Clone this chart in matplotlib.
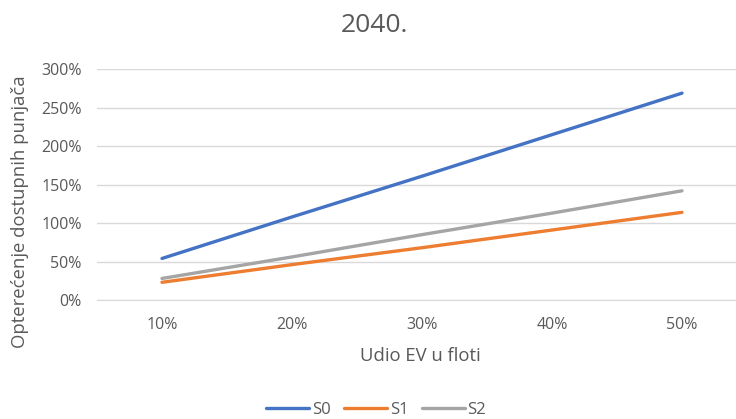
import matplotlib
matplotlib.use("Agg")
import matplotlib.pyplot as plt
from matplotlib.ticker import FuncFormatter

categories = ["10%", "20%", "30%", "40%", "50%"]
s0 = [54, 108, 161, 215, 269]
s1 = [23, 46, 68, 91, 114]
s2 = [28, 56, 85, 113, 142]
series_names = ["S0", "S1", "S2"]
colors = ["#4472C4", "#ED7D31", "#A5A5A5"]

plt.rcParams['font.family'] = ['Open Sans', 'DejaVu Sans']
W, H = 736, 419
fig = plt.figure(figsize=(W / 100, H / 100), dpi=100)
left, right, bottom, top = 97, 736, 300, 69.3
ax = fig.add_axes([left / W, 1 - bottom / H, (right - left) / W, (bottom - top) / H])

x = list(range(len(categories)))
for vals, name, c in zip([s0, s1, s2], series_names, colors):
    ax.plot(x, vals, color=c, lw=2.4, label=name, solid_capstyle='round')

ax.set_ylim(0, 300)
ax.set_xlim(-0.5, 4.5 - 11 / 130)
ax.set_yticks(range(0, 301, 50))
ax.yaxis.set_major_formatter(FuncFormatter(lambda v, p: f"{int(v)}%"))
ax.set_xticks(x)
ax.set_xticklabels(categories)
ax.grid(axis='y', color='#D9D9D9', lw=1)
ax.set_axisbelow(True)
for s in ax.spines.values():
    s.set_visible(False)
ax.spines['bottom'].set_visible(True)
ax.spines['bottom'].set_color('#D9D9D9')
ax.tick_params(length=0, colors='#595959', labelsize=11.5)
ax.tick_params(axis='x', pad=12)
ax.tick_params(axis='y', pad=11)

fig.text(374 / W, 1 - 26 / H, "2040.", ha='center', va='center', fontsize=19, color='#595959')
fig.text(20 / W, 1 - 212 / H, "Opterećenje dostupnih punjača", rotation=90,
         ha='center', va='center', fontsize=13.3, color='#595959')
fig.text(420 / W, 1 - 356 / H, "Udio EV u floti", ha='center', va='center', fontsize=13.3, color='#595959')

leg = fig.legend(loc='center', bbox_to_anchor=(376 / W, 1 - 410 / H), ncol=3, frameon=False,
                 fontsize=12, handlelength=2.6, handletextpad=0.15, columnspacing=0.8)
for t in leg.get_texts():
    t.set_color('#595959')

fig.savefig("out.png", dpi=100)
